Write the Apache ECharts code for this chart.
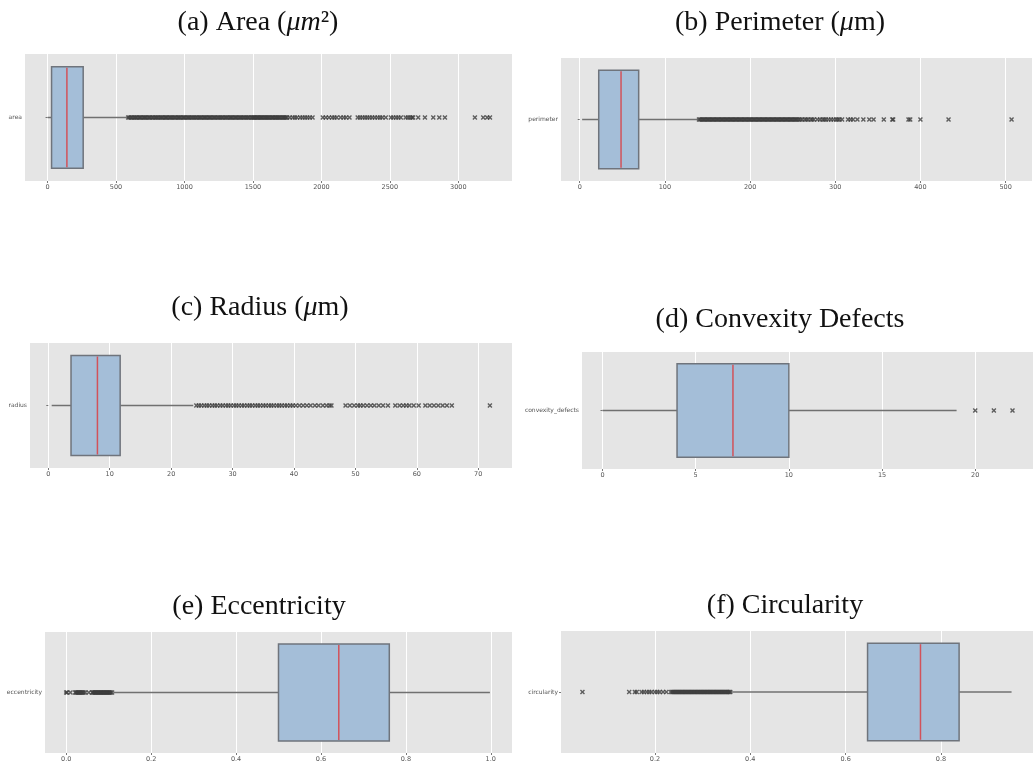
<!DOCTYPE html>
<html>
<head>
<meta charset="utf-8">
<script src="https://cdn.jsdelivr.net/npm/echarts@6/dist/echarts.min.js"></script>
<style>
  html, body { margin: 0; padding: 0; background: #fff; }
  #chart { width: 1033px; height: 767px; }
</style>
</head>
<body>
<div id="chart"></div>
<script>
// box stats: [lower whisker, Q1, median, Q3, upper whisker]
const areaStats = [0, 29, 141, 260, 589]
const perimeterStats = [2.8, 22.3, 48.5, 69.2, 139.5]
const radiusStats = [0.55, 3.7, 8.0, 11.7, 23.6]
const convexityStats = [0, 4, 7, 10, 19]
const eccentricityStats = [0.111, 0.50, 0.642, 0.761, 0.998]
const circularityStats = [0.359, 0.646, 0.757, 0.838, 0.948]

// fliers
const areaOutliers = [
  589, 598, 607, 617, 628, 636, 645, 655, 666, 674, 683, 694, 704, 712, 721, 731, 742, 750, 760, 770,
  781, 789, 797, 808, 818, 827, 836, 846, 857, 865, 873, 884, 894, 903, 912, 921, 931, 941, 951, 959,
  968, 978, 989, 997, 1006, 1016, 1027, 1035, 1044, 1054, 1065, 1073, 1082, 1093, 1103, 1111, 1120,
  1131, 1141, 1149, 1158, 1168, 1179, 1187, 1196, 1206, 1217, 1225, 1234, 1245, 1255, 1263, 1272,
  1282, 1293, 1301, 1310, 1321, 1331, 1339, 1348, 1358, 1369, 1377, 1386, 1396, 1407, 1415, 1424,
  1434, 1445, 1453, 1462, 1472, 1483, 1491, 1500,
  1506, 1512, 1520, 1528, 1535, 1541, 1549, 1556, 1563, 1570, 1579, 1588, 1596, 1603, 1611, 1619,
  1628, 1636, 1643, 1650, 1659, 1667, 1676, 1684, 1692, 1700, 1709, 1718, 1726, 1733, 1741, 1750,
  1768, 1790, 1806, 1822, 1845, 1862, 1880, 1897, 1915, 1935,
  2010, 2032, 2055, 2078, 2095, 2112, 2140, 2162, 2180, 2205,
  2265, 2282, 2300, 2318, 2335, 2352, 2371, 2390, 2410, 2428, 2445, 2470,
  2508, 2525, 2545, 2562, 2580, 2615, 2632, 2648, 2662, 2670,
  2707, 2756, 2817, 2861, 2902, 3121, 3182, 3211, 3231
]
const perimeterOutliers = [
  140, 141.5, 143, 144.5, 146, 147.5, 149, 150.5, 152, 153.5, 155, 156.5, 158, 159.5, 161, 162.5,
  164, 165.5, 167, 168.5, 170, 171.5, 173, 174.5, 176, 177.5, 179, 180.5, 182, 183.5, 185, 186.5,
  188, 189.5, 191, 192.5, 194, 195.5, 197, 198.5, 200, 201.5, 203, 204.5, 206, 207.5, 209, 210.5,
  212, 213.5, 215, 216.5, 218, 219.5, 221, 222.5, 224, 225.5, 227, 228.5, 230, 231.5, 233, 234.5,
  236, 237.5, 239, 240.5, 242, 243.5, 245, 246.5, 248, 249.5, 251, 252.5, 254, 255.5, 257,
  259, 261, 264, 266, 268, 271, 273, 275, 279, 282, 285, 287, 289, 292, 295, 298, 301, 303, 305, 308,
  315, 318, 321, 326, 333, 340, 345, 357, 367, 368, 386, 388, 400, 433, 507
]
const radiusOutliers = [
  24.1, 24.5, 24.9, 25.4, 25.8, 26.2, 26.7, 27.1, 27.5, 28.0, 28.4, 28.9, 29.3, 29.7, 30.2, 30.6,
  31.0, 31.5, 31.9, 32.4, 32.8, 33.2, 33.7, 34.1, 34.5, 35.0, 35.4, 35.9, 36.3, 36.7, 37.2, 37.6,
  38.0, 38.5, 38.9, 39.4, 39.8, 40.3, 40.9, 41.5, 42.1, 42.7, 43.4, 44.0, 44.7, 45.3, 45.8, 46.1,
  48.4, 49.1, 49.8, 50.4, 50.8, 51.3, 51.9, 52.5, 53.1, 53.8, 54.5, 55.3,
  56.5, 57.2, 57.8, 58.3, 58.8, 59.5, 60.3,
  61.4, 62.1, 62.8, 63.5, 64.2, 64.9, 65.7,
  71.9
]
const convexityOutliers = [20, 21, 22]
const eccentricityOutliers = [
  0.0, 0.002, 0.01, 0.021, 0.023, 0.025, 0.027, 0.029, 0.031, 0.033, 0.035, 0.037, 0.039, 0.041, 0.045, 0.053,
  0.061, 0.063, 0.065, 0.067, 0.069, 0.071, 0.073, 0.075, 0.077, 0.079, 0.081, 0.083, 0.085, 0.087,
  0.089, 0.091, 0.093, 0.095, 0.097, 0.099, 0.101, 0.103, 0.105, 0.108
]
const circularityOutliers = [
  0.048, 0.146, 0.158, 0.162, 0.172, 0.177, 0.183, 0.188, 0.193, 0.2, 0.205, 0.21, 0.217, 0.224, 0.233,
  0.236, 0.2385, 0.241, 0.2435, 0.246, 0.2485, 0.251, 0.2535, 0.256, 0.2585, 0.261, 0.2635, 0.266,
  0.2685, 0.271, 0.2735, 0.276, 0.2785, 0.281, 0.2835, 0.286, 0.2885, 0.291, 0.2935, 0.296, 0.2985,
  0.301, 0.3035, 0.306, 0.3085, 0.311, 0.3135, 0.316, 0.3185, 0.321, 0.3235, 0.326, 0.3285, 0.331,
  0.3335, 0.336, 0.3385, 0.341, 0.3435, 0.346, 0.3485, 0.351, 0.3535, 0.356, 0.358
]

const categories = ['area', 'perimeter', 'radius', 'convexity_defects', 'eccentricity', 'circularity']
const tickIntervals = [500, 100, 10, 5, 0.2, 0.2]
const labelDecimals = [0, 0, 0, 0, 1, 1]
const axisMins = [-165, -22, -2.98, -1.1, -0.05, 0.003]
const axisMaxs = [3392, 531, 75.5, 23.1, 1.05, 0.993]

const panels = [
  { stats: areaStats, outliers: areaOutliers, grid: { left: 25, top: 54, width: 487, height: 127 } },
  { stats: perimeterStats, outliers: perimeterOutliers, grid: { left: 561, top: 58, width: 471, height: 123 } },
  { stats: radiusStats, outliers: radiusOutliers, grid: { left: 30, top: 343, width: 482, height: 125 } },
  { stats: convexityStats, outliers: convexityOutliers, grid: { left: 582, top: 352, width: 451, height: 117 } },
  { stats: eccentricityStats, outliers: eccentricityOutliers, grid: { left: 45, top: 632, width: 467, height: 121 } },
  { stats: circularityStats, outliers: circularityOutliers, grid: { left: 561, top: 631, width: 472, height: 122 } }
]

const titles = [
  { text: '(a) Area ({i|μm}²)', x: 258, y: 23 },
  { text: '(b) Perimeter ({i|μ}m)', x: 780, y: 23 },
  { text: '(c) Radius ({i|μ}m)', x: 260, y: 308 },
  { text: '(d) Convexity Defects', x: 780, y: 320 },
  { text: '(e) Eccentricity', x: 259, y: 607 },
  { text: '(f) Circularity', x: 785, y: 606 }
]

const crossPath = 'path://M0,2L2,0L5,3L8,0L10,2L7,5L10,8L8,10L5,7L2,10L0,8L3,5Z'
const tickColor = '#555'

function renderBox(params, api) {
  const y = api.value(0)
  const lo = api.coord([api.value(1), y])
  const q1 = api.coord([api.value(2), y])
  const med = api.coord([api.value(3), y])
  const q3 = api.coord([api.value(4), y])
  const hi = api.coord([api.value(5), y])
  const h = api.size([0, 1])[1] * 0.8
  const whisker = { stroke: '#707070', lineWidth: 1.5 }
  return {
    type: 'group',
    children: [
      { type: 'line', shape: { x1: lo[0], y1: lo[1], x2: q1[0], y2: q1[1] }, style: whisker },
      { type: 'line', shape: { x1: q3[0], y1: q3[1], x2: hi[0], y2: hi[1] }, style: whisker },
      {
        type: 'rect',
        shape: { x: q1[0], y: q1[1] - h / 2, width: q3[0] - q1[0], height: h },
        style: { fill: '#a4bed8', stroke: '#6f747c', lineWidth: 1.5 }
      },
      {
        type: 'line',
        shape: { x1: med[0], y1: med[1] - h / 2 + 1, x2: med[0], y2: med[1] + h / 2 - 1 },
        style: { stroke: '#d2525a', lineWidth: 1.5 }
      }
    ]
  }
}

const grids = []
const xAxes = []
const yAxes = []
const series = []

panels.forEach((p, i) => {
  grids.push(Object.assign({ show: true, backgroundColor: '#e5e5e5', borderWidth: 0 }, p.grid))
  xAxes.push({
    type: 'value',
    gridIndex: i,
    min: axisMins[i],
    max: axisMaxs[i],
    splitNumber: 7,
    minInterval: tickIntervals[i],
    maxInterval: tickIntervals[i],
    axisLine: { show: false },
    axisTick: { show: true, length: 2, lineStyle: { color: tickColor, width: 0.8 } },
    axisLabel: {
      fontSize: 6.5,
      color: tickColor,
      margin: 3,
      fontFamily: 'DejaVu Sans',
      showMinLabel: false,
      showMaxLabel: false,
      formatter: (v) => Number(v).toFixed(labelDecimals[i])
    },
    splitLine: { show: true, showMinLine: false, showMaxLine: false, lineStyle: { color: '#ffffff', width: 1 } }
  })
  yAxes.push({
    type: 'category',
    gridIndex: i,
    data: [categories[i]],
    axisLine: { show: false },
    axisTick: { show: true, alignWithLabel: true, length: 2, lineStyle: { color: tickColor, width: 0.8 } },
    axisLabel: { fontSize: 6, color: tickColor, margin: 3, fontFamily: 'DejaVu Sans' },
    splitLine: { show: false }
  })
  series.push({
    type: 'custom',
    xAxisIndex: i,
    yAxisIndex: i,
    renderItem: renderBox,
    encode: { x: [1, 2, 3, 4, 5], y: 0 },
    data: [[0].concat(p.stats)],
    z: 2
  })
  series.push({
    type: 'scatter',
    xAxisIndex: i,
    yAxisIndex: i,
    symbol: crossPath,
    symbolSize: 5,
    itemStyle: { color: '#3c3c3c' },
    emphasis: { disabled: true },
    data: p.outliers.map((v) => [v, 0]),
    z: 3
  })
})

const titleGraphics = titles.map((t) => ({
  type: 'text',
  x: t.x,
  y: t.y,
  style: {
    text: t.text,
    align: 'center',
    verticalAlign: 'middle',
    fontFamily: 'Liberation Serif',
    fontSize: 28,
    fill: '#111',
    rich: {
      i: { fontFamily: 'Liberation Serif', fontStyle: 'italic', fontSize: 28, fill: '#111' }
    }
  }
}))

const chart = echarts.init(document.getElementById('chart'), null, { renderer: 'canvas' })
chart.setOption({
  animation: false,
  backgroundColor: '#ffffff',
  grid: grids,
  xAxis: xAxes,
  yAxis: yAxes,
  series: series,
  graphic: titleGraphics
})
</script>
</body>
</html>
